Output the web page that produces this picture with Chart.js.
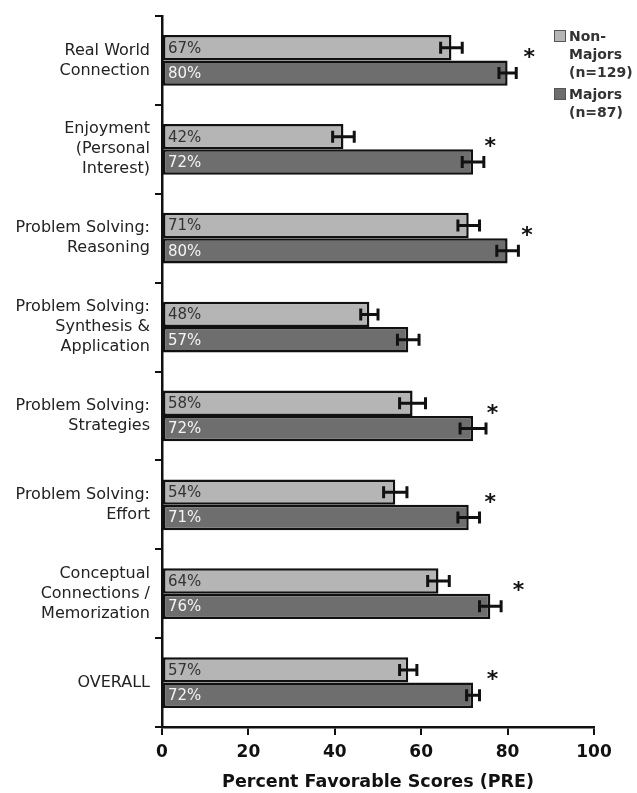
<!DOCTYPE html>
<html>
<head>
<meta charset="utf-8">
<script src="https://cdn.jsdelivr.net/npm/chart.js@4"></script>
<style>
  html, body { margin: 0; padding: 0; background: #fff; }
  #wrap { width: 637px; height: 793px; }
</style>
</head>
<body>
<div id="wrap"><canvas id="favChart"></canvas></div>
<script>
const categories = [
  ['Real World', 'Connection'],
  ['Enjoyment', '(Personal', 'Interest)'],
  ['Problem Solving:', 'Reasoning'],
  ['Problem Solving:', 'Synthesis &', 'Application'],
  ['Problem Solving:', 'Strategies'],
  ['Problem Solving:', 'Effort'],
  ['Conceptual', 'Connections /', 'Memorization'],
  ['OVERALL']
]
const nonMajors = [67, 42, 71, 48, 58, 54, 64, 57]
const majors = [80, 72, 80, 57, 72, 71, 76, 72]
const nonMajorsErr = [2.5, 2.5, 2.5, 2, 3, 2.7, 2.5, 2]
const majorsErr = [2, 2.5, 2.5, 2.5, 3, 2.5, 2.5, 1.5]
// where the significance star sits (x value), null = no star
const starAt = [85, 76, 84.5, null, 76.5, 76, 82.5, 76.5]
const xTicks = [0, 20, 40, 60, 80, 100]

const font = '"DejaVu Sans", Verdana, sans-serif'

const extras = {
  id: 'extras',
  afterDatasetsDraw(chart) {
    const ctx = chart.ctx
    const x = chart.scales.x
    const y = chart.scales.y
    const errs = [nonMajorsErr, majorsErr]
    ctx.save()
    chart.data.datasets.forEach((ds, di) => {
      const meta = chart.getDatasetMeta(di)
      meta.data.forEach((bar, i) => {
        const v = ds.data[i]
        const e = errs[di][i]
        const x1 = x.getPixelForValue(v - e)
        const x2 = x.getPixelForValue(v + e)
        // error bar
        ctx.strokeStyle = '#111'
        ctx.lineWidth = 3
        ctx.beginPath()
        ctx.moveTo(x1, bar.y); ctx.lineTo(x2, bar.y)
        ctx.moveTo(x1, bar.y - 6); ctx.lineTo(x1, bar.y + 6)
        ctx.moveTo(x2, bar.y - 6); ctx.lineTo(x2, bar.y + 6)
        ctx.stroke()
        // value label
        ctx.font = '15px ' + font
        ctx.fillStyle = di === 0 ? '#333' : '#f4f4f4'
        ctx.textAlign = 'left'
        ctx.textBaseline = 'middle'
        ctx.fillText(v + '%', x.getPixelForValue(0) + 6, bar.y + 1)
      })
    })
    // stars
    ctx.font = 'bold 22px ' + font
    ctx.fillStyle = '#111'
    ctx.textAlign = 'center'
    ctx.textBaseline = 'middle'
    starAt.forEach((s, i) => {
      if (s === null) return
      ctx.fillText('*', x.getPixelForValue(s), y.getPixelForValue(i) - 2)
    })
    // legend
    const items = [
      { color: '#b5b5b5', lines: ['Non-', 'Majors', '(n=129)'], top: 30 },
      { color: '#6e6e6e', lines: ['Majors', '(n=87)'], top: 88 }
    ]
    ctx.textAlign = 'left'
    ctx.textBaseline = 'middle'
    ctx.font = 'bold 14px ' + font
    items.forEach(it => {
      ctx.fillStyle = it.color
      ctx.fillRect(554, it.top, 12, 12)
      ctx.strokeStyle = '#555'
      ctx.lineWidth = 1
      ctx.strokeRect(554.5, it.top + 0.5, 11, 11)
      ctx.fillStyle = '#333'
      it.lines.forEach((t, k) => ctx.fillText(t, 569, it.top + 7 + k * 18))
    })
    ctx.restore()
  }
}

new Chart(document.getElementById('favChart'), {
  type: 'bar',
  data: {
    labels: categories,
    datasets: [
      {
        label: 'Non-Majors (n=129)',
        data: nonMajors,
        backgroundColor: '#b5b5b5',
        borderColor: '#111',
        borderWidth: 2.5,
        borderSkipped: false
      },
      {
        label: 'Majors (n=87)',
        data: majors,
        backgroundColor: '#6e6e6e',
        borderColor: '#111',
        borderWidth: 2.5,
        borderSkipped: false
      }
    ]
  },
  options: {
    indexAxis: 'y',
    responsive: true,
    maintainAspectRatio: false,
    animation: false,
    datasets: { bar: { categoryPercentage: 0.57, barPercentage: 1 } },
    layout: { padding: { top: 16, right: 43, left: 0, bottom: 0 } },
    plugins: { legend: { display: false }, tooltip: { enabled: false } },
    scales: {
      x: {
        min: 0,
        max: 100,
        afterBuildTicks: s => { s.ticks = xTicks.map(v => ({ value: v })) },
        afterFit: s => { s.height = 66 },
        ticks: { font: { family: font, size: 17, weight: 'bold' }, color: '#111', padding: 7 },
        grid: { drawOnChartArea: false, drawTicks: true, tickLength: 8, color: '#111', lineWidth: 2 },
        border: { display: true, color: '#111', width: 2.5 },
        title: {
          display: true,
          text: 'Percent Favorable Scores (PRE)',
          font: { family: font, size: 17.5, weight: 'bold' },
          color: '#111',
          padding: { top: 6, bottom: 0 }
        }
      },
      y: {
        afterFit: s => { s.width = 162 },
        ticks: { font: { family: font, size: 16, lineHeight: 1.25 }, color: '#222', padding: 5 },
        grid: { drawOnChartArea: false, drawTicks: true, tickLength: 7, color: '#111', lineWidth: 2 },
        border: { display: true, color: '#111', width: 2.5 }
      }
    }
  },
  plugins: [extras]
})
</script>
</body>
</html>
